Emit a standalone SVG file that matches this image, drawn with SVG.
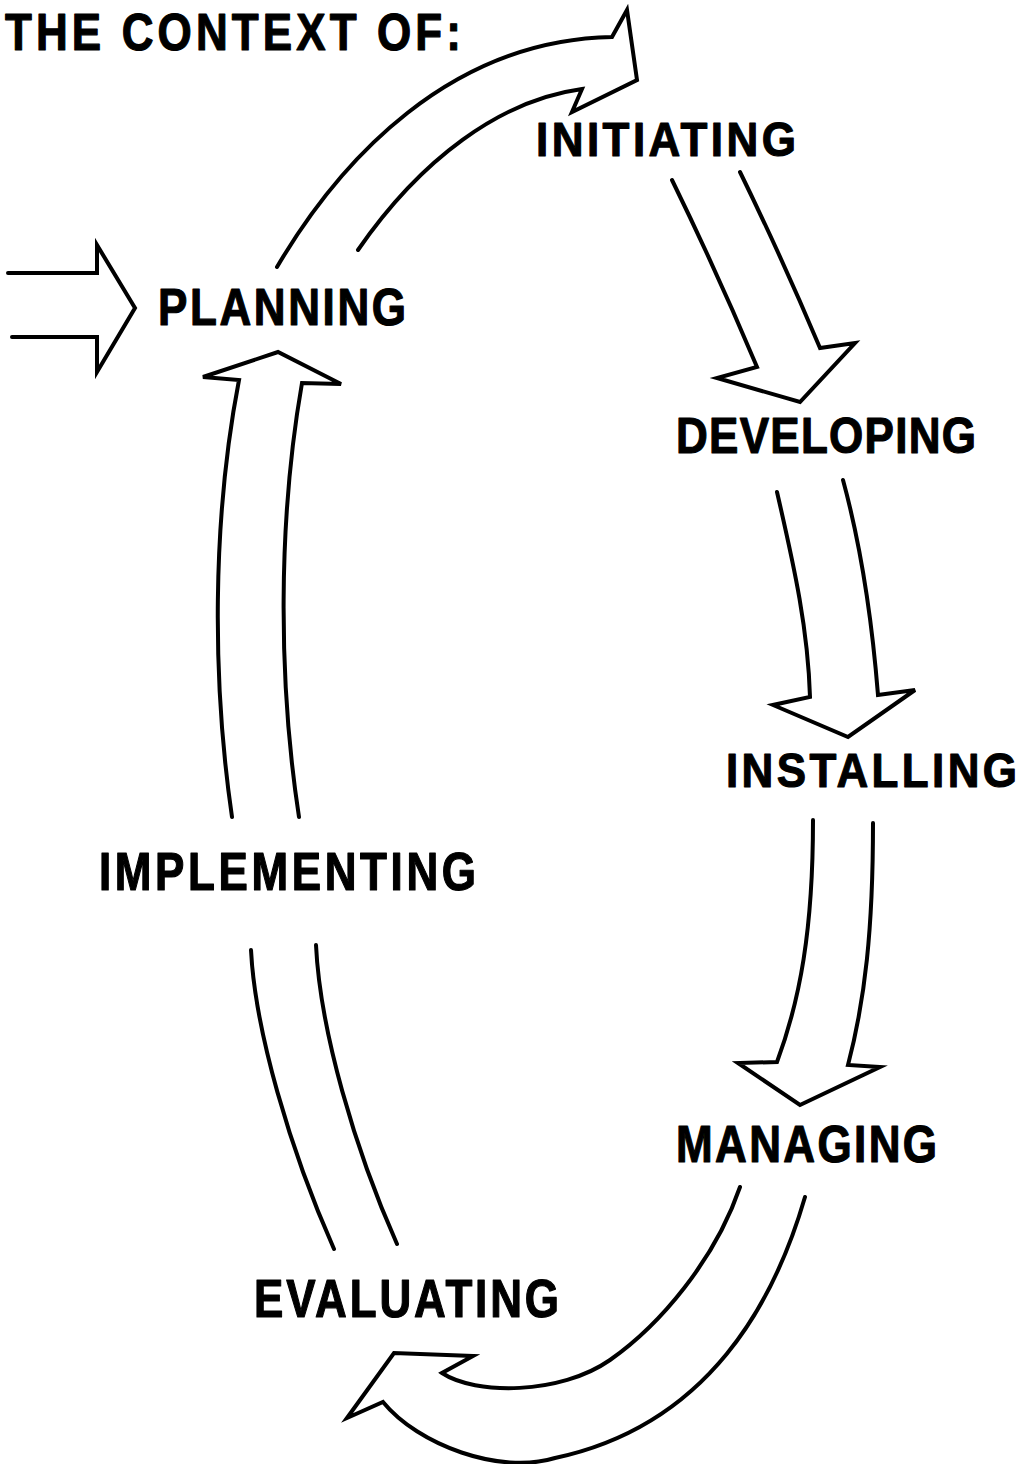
<svg xmlns="http://www.w3.org/2000/svg" width="1023" height="1464" viewBox="0 0 1023 1464">
  <style>
    .lbl { font-family: "Liberation Sans", Arial, sans-serif; font-weight: bold; font-size: 44px; fill: #000; stroke: #000; stroke-width: 1; stroke-linejoin: round; }
    .arw { fill: none; stroke: #000; stroke-width: 4; stroke-linejoin: miter; stroke-linecap: round; }
  </style>
  <rect width="1023" height="1464" fill="#fff"/>

  <!-- heading -->
  <g id="title">
    <text class="lbl" transform="translate(5,50) scale(1,1.17)" textLength="456" lengthAdjust="spacing">THE CONTEXT OF:</text>
  </g>

  <!-- stages of the cycle (tall lettering: stretched vertically, spaced out) -->
  <g id="planning">
    <text class="lbl" transform="translate(158,325) scale(1,1.17)" textLength="248" lengthAdjust="spacing">PLANNING</text>
  </g>
  <g id="initiating">
    <text class="lbl" transform="translate(536,156) scale(1,1.08)" textLength="260" lengthAdjust="spacing">INITIATING</text>
  </g>
  <g id="developing">
    <text class="lbl" transform="translate(676,453) scale(1,1.14)" textLength="300" lengthAdjust="spacing">DEVELOPING</text>
  </g>
  <g id="installing">
    <text class="lbl" transform="translate(726,787) scale(1,1.11)" textLength="291" lengthAdjust="spacing">INSTALLING</text>
  </g>
  <g id="managing">
    <text class="lbl" transform="translate(676,1162) scale(1,1.17)" textLength="261" lengthAdjust="spacing">MANAGING</text>
  </g>
  <g id="evaluating">
    <text class="lbl" transform="translate(254,1317) scale(1,1.22)" textLength="305" lengthAdjust="spacing">EVALUATING</text>
  </g>
  <g id="implementing">
    <text class="lbl" transform="translate(99,890) scale(1,1.2)" textLength="377" lengthAdjust="spacing">IMPLEMENTING</text>
  </g>

  <!-- hollow block arrows linking the stages -->
  <g id="connectors">
    <!-- entry into planning -->
    <path id="entry" class="arw" d="M8,273 H97 V245 L135,308 L97,372 V337 H12"/>
    <!-- planning to initiating -->
    <path id="planning-initiating" class="arw" stroke-width="4.5" d="M277,267 C340,160 450,40 612,37 L627,10 L637,80 L572,112 L582,89 C500,100 420,160 358,250"/>
    <!-- initiating to developing -->
    <path id="initiating-developing" class="arw" d="M672,180 Q717,272 757,367 L717,378 L800,402 L855,343 L820,348 Q782,258 740,172"/>
    <!-- developing to installing -->
    <path id="developing-installing" class="arw" d="M777,492 C795,570 808,630 810,697 L773,705 L848,737 L915,690 L878,695 C872,620 862,550 843,480"/>
    <!-- installing to managing -->
    <path id="installing-managing" class="arw" d="M813,820 C813,930 800,1000 777,1062 L738,1063 L800,1105 L880,1067 L848,1065 C865,1000 873,930 873,823"/>
    <!-- managing to evaluating -->
    <path id="managing-evaluating" class="arw" d="M805,1197 C775,1300 710,1425 555,1458 C500,1475 418,1445 383,1402 L347,1418 L394,1353 L473,1356 L442,1373 C475,1395 560,1395 610,1360 C660,1325 715,1260 740,1187"/>
    <!-- evaluating to implementing (shaft only) -->
    <path id="evaluating-implementing-a" class="arw" stroke-width="3.5" d="M251,950 C255,1030 290,1150 334,1249"/>
    <path id="evaluating-implementing-b" class="arw" stroke-width="3.5" d="M316,945 C320,1030 355,1150 397,1244"/>
    <!-- implementing to planning -->
    <path id="implementing-planning" class="arw" d="M232,817 C212,680 212,520 239,380 L203,377 L278,352 L341,384 L302,383 C278,520 278,680 299,817"/>
  </g>
</svg>
